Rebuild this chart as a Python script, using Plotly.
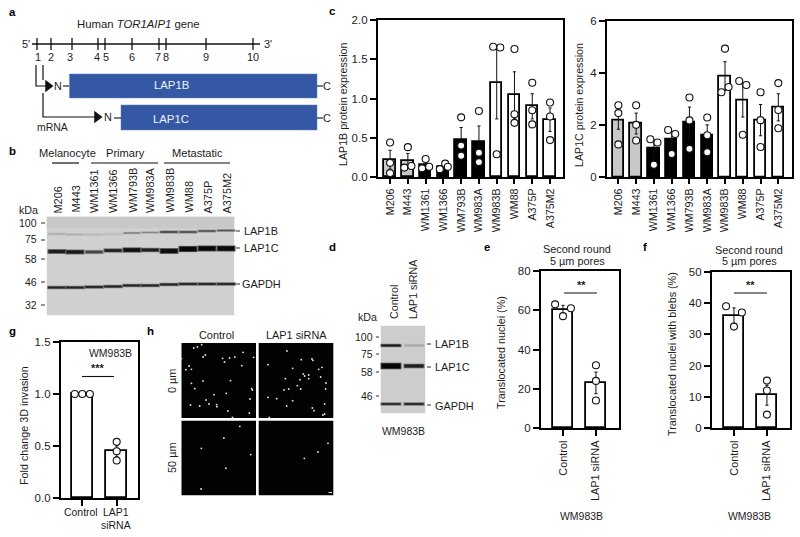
import plotly.graph_objects as go

W, H = 800, 537
FONT = "Liberation Sans"
INK = "#1c1c1c"
FS = 1.09

# ---- chart data ----
cell_lines = ["M206", "M443", "WM1361", "WM1366", "WM793B", "WM983A", "WM983B", "WM88", "A375P", "A375M2"]
bar_fill = ["#c8c8c8"] * 2 + ["#000000"] * 4 + ["#ffffff"] * 4

lap1b_mean = [0.22, 0.21, 0.15, 0.13, 0.47, 0.44, 1.20, 1.04, 0.90, 0.73]
lap1b_err = [0.12, 0.09, 0.04, 0.03, 0.16, 0.21, 0.46, 0.30, 0.16, 0.15]
lap1b_pts = [[0.44, 0.18, 0.05], [0.38, 0.12, 0.14], [0.23, 0.11, 0.13], [0.17, 0.10, 0.13], [0.76, 0.40, 0.27],
             [0.84, 0.31, 0.19], [0.29, 1.66, 1.65], [1.63, 0.80, 0.69], [1.20, 0.85, 0.67], [0.95, 0.77, 0.47]]
lap1b_off = [[0, 0, 0], [0, -0.2, 0.2], [0, -0.2, 0.2], [0.1, -0.2, 0.25], [0, 0, 0],
             [0, 0, 0], [0, -0.2, 0.2], [0, 0, 0], [0, 0, 0], [0, 0, 0]]

lap1c_mean = [2.15, 2.05, 1.08, 1.45, 2.10, 1.60, 3.87, 2.93, 2.18, 2.67]
lap1c_err = [0.32, 0.40, 0.33, 0.30, 0.58, 0.40, 0.55, 0.63, 0.60, 0.52]
lap1c_pts = [[2.75, 2.45, 1.25], [2.75, 2.00, 1.40], [0.47, 1.45, 1.32], [0.88, 1.80, 1.65], [3.05, 2.17, 1.08],
             [2.28, 1.60, 0.95], [4.92, 3.25, 3.45], [1.62, 3.68, 3.53], [3.25, 2.18, 1.15], [3.60, 2.57, 1.87]]
lap1c_off = [[0, 0, 0], [0, 0, 0], [0, -0.2, 0.2], [0, -0.2, 0.2], [0, 0, 0],
             [0, 0, 0], [0, -0.2, 0.2], [0, -0.2, 0.2], [0, 0, 0], [0, 0, 0]]

treat_e = ["Control", "LAP1 siRNA"]
nuclei_mean = [60, 23]
nuclei_err = [2.5, 5.5]
nuclei_pts = [[63, 61, 57], [32, 24, 14]]
blebs_mean = [36, 10.5]
blebs_err = [2.5, 3.2]
blebs_pts = [[39, 37, 32.5], [15.2, 12, 4.3]]
e_off = [[-0.24, 0.24, 0], [0, 0, 0]]

treat_g = ["", ""]
invasion_mean = [1.0, 0.45]
invasion_err = [0.0, 0.05]
invasion_pts = [[1.0, 1.0, 1.0], [0.54, 0.45, 0.36]]
g_off = [[-0.22, 0, 0.22], [0, 0, 0]]

exon_labels = ["1", "2", "3", "4", "5", "6", "7", "8", "9", "10"]
exon_pos = [37, 51, 72, 98, 105, 132, 159, 166, 206, 253]
exon_text = [38, 51, 70, 97, 106, 132, 158, 166, 206, 253]

# western blot b: lane centre, band height and darkness per protein
b_lanes = [57, 75, 94, 113, 132, 150, 169, 188, 207, 226]
b_lap1b_y = [234, 234.5, 234.5, 234, 233, 232.5, 232, 232, 231, 230.5]
b_lap1b_g = [170, 175, 185, 192, 120, 135, 60, 65, 75, 85]
b_lap1c_y = [251.5, 252, 252, 250.5, 250, 250, 251, 249, 248.5, 248.5]
b_lap1c_g = [30, 25, 70, 30, 15, 30, 15, 8, 8, 10]
b_lap1c_w = [3.2, 3.2, 2.6, 2.6, 3.6, 2.8, 4.2, 4.6, 4.4, 4.4]
b_gapdh_y = [287.5, 287.5, 287, 286.5, 285.5, 285.5, 284.5, 284, 284, 284]
b_gapdh_g = [35] * 10
# western blot d
d_lanes = [391, 414]
d_lap1b_g = [25, 165]
d_lap1c_g = [5, 30]
d_lap1c_w = [5, 3]
d_gapdh_g = [40, 35]

# h: bright nuclei
h_ctrl0_x = [47, 58, 71, 75, 82, 134, 140, 155, 171, 196, 228, 10, 33, 23, 40, 192, 75, 158, 40, 50, 222, 224, 145, 108, 84, 217, 37, 65, 93, 116, 117, 150, 215, 164]
h_ctrl0_y = [30, 27, 20, 57, 51, 61, 72, 60, 57, 43, 58, 62, 84, 95, 94, 83, 129, 128, 136, 152, 152, 156, 166, 170, 186, 183, 201, 204, 198, 200, 206, 219, 225, 238]
h_si0_x = [327, 370, 402, 405, 270, 344, 432, 422, 376, 380, 392, 392, 366, 322, 428, 358, 444, 332, 318, 368, 443, 270, 296, 344, 440, 326, 403, 408, 440, 435, 274]
h_si0_y = [39, 65, 63, 67, 80, 91, 88, 94, 108, 114, 111, 122, 125, 122, 117, 143, 135, 153, 156, 153, 153, 178, 182, 188, 198, 204, 210, 218, 228, 231, 238]
h_ctrl50_x = [186, 138, 70, 219, 144, 69]
h_ctrl50_y = [265, 300, 331, 350, 391, 453]
h_si50_x = [450, 420, 379]
h_si50_y = [316, 342, 361]

# ---- helpers ----
fig = go.Figure()
annos, shapes = [], []
axes = {}
n_ax = [1]


def dom(a, b, total):
    return [a / total, b / total]


def new_axes(x0, x1, y0, y1):
    k = n_ax[0]
    n_ax[0] += 1
    xa, ya = f"xaxis{k}", f"yaxis{k}"
    axes[xa] = dict(domain=dom(x0, x1, W), anchor=f"y{k}", automargin=False)
    axes[ya] = dict(domain=[1 - y1 / H, 1 - y0 / H], anchor=f"x{k}", automargin=False)
    return k, xa, ya


# page-wide axes in picture units for the schematic and the blots
P, pxa, pya = new_axes(0, W, 0, H)
axes[pxa].update(range=[0, W], visible=False, fixedrange=True)
axes[pya].update(range=[H, 0], visible=False, fixedrange=True)


def txt(x, y, s, size=10.3, xa="center", ya="middle", rot=0, color=INK, bold=False):
    annos.append(dict(xref="paper", yref="paper", x=x / W, y=1 - y / H, text=f"<b>{s}</b>" if bold else s,
                      showarrow=False, xanchor=xa, yanchor=ya, textangle=rot, borderpad=0,
                      font=dict(family=FONT, size=size * FS, color=color)))


def line(xs, ys, w=1.2, color="#111111"):
    fig.add_trace(go.Scatter(x=xs, y=ys, mode="lines", line=dict(color=color, width=w),
                             xaxis=f"x{P}", yaxis=f"y{P}", hoverinfo="skip", showlegend=False))


def rect(x0, y0, x1, y1, fill, lc=None):
    shapes.append(dict(type="rect", xref=f"x{P}", yref=f"y{P}", x0=x0, x1=x1, y0=y0, y1=y1,
                       fillcolor=fill, line=dict(color=lc or fill, width=0.5), layer="below"))


def grey(g):
    return f"rgb({g},{g},{g})"


def band(x, y, half, g, w):
    # soft halo then core so the band reads as a blurred blot band
    halo = min(g + 75, 195)
    line([x - half - 1, x + half + 1], [y, y], w + 1.6, grey(halo))
    line([x - half, x + half], [y, y], w, grey(g))


def bars(x0, x1, y0, y1, means, errs, pts, offs, labels, ymax, ticks, fills, xr, bw, angle=-90, fmt=None, tlen=5, tfs=9.8):
    k, xa, ya = new_axes(x0, x1, y0, y1)
    xs = list(range(len(means)))
    fig.add_trace(go.Bar(x=xs, y=means, width=bw, marker=dict(color=fills, line=dict(color="#000000", width=1.8)),
                         error_y=dict(type="data", array=errs, color="#111111", thickness=1, width=1.6),
                         xaxis=f"x{k}", yaxis=f"y{k}", showlegend=False, hoverinfo="skip"))
    px, py = [], []
    for i, (row, off) in enumerate(zip(pts, offs)):
        for v, o in zip(row, off):
            px.append(i + o)
            py.append(v)
    fig.add_trace(go.Scatter(x=px, y=py, mode="markers", cliponaxis=False,
                             marker=dict(size=7, color="#ffffff", line=dict(color="#111111", width=1.1)),
                             xaxis=f"x{k}", yaxis=f"y{k}", showlegend=False, hoverinfo="skip"))
    axes[xa].update(range=xr, tickmode="array", tickvals=xs, ticktext=labels, tickangle=angle, ticks="outside",
                    ticklen=tlen, tickwidth=1.6, tickcolor="#000000", showline=True, linewidth=2.4, linecolor="#000000",
                    mirror=True, showgrid=False, zeroline=False, fixedrange=True,
                    tickfont=dict(family=FONT, size=tfs * FS, color=INK))
    axes[ya].update(range=[0, ymax], tickmode="array", tickvals=ticks, ticktext=[fmt % t for t in ticks],
                    ticks="outside", ticklen=6, tickwidth=1.6, tickcolor="#000000", showline=True, linewidth=2.4,
                    linecolor="#000000", mirror=True, showgrid=False, zeroline=False, fixedrange=True,
                    tickfont=dict(family=FONT, size=10.5 * FS, color=INK))


def micrograph(x0, x1, y0, y1, dx, dy, rx, ry):
    k, xa, ya = new_axes(x0, x1, y0, y1)
    fig.add_trace(go.Scatter(x=dx, y=dy, mode="markers", marker=dict(size=1.9, color="#e0e0e0"),
                             xaxis=f"x{k}", yaxis=f"y{k}", showlegend=False, hoverinfo="skip"))
    axes[xa].update(range=rx, visible=False, fixedrange=True)
    axes[ya].update(range=ry, visible=False, fixedrange=True)
    shapes.append(dict(type="rect", xref="paper", yref="paper", x0=x0 / W, x1=x1 / W, y0=1 - y1 / H, y1=1 - y0 / H,
                       fillcolor="#020202", line=dict(width=0), layer="below"))


# ---- panel letters ----
for s, x, y in [("a", 12, 12), ("c", 332, 11), ("b", 12, 151), ("d", 332, 247), ("e", 487, 247), ("f", 645, 247),
                ("g", 12, 331), ("h", 150, 331)]:
    txt(x, y, s, size=10.5, bold=True, color="#000000")

# ---- panel a ----
txt(138, 24, "Human <i>TOR1AIP1</i> gene", size=10.4)
txt(26, 44, "5'", size=10)
txt(268, 44, "3'", size=10)
line([32, 260], [44, 44], 1.3)
for p, tx, lab in zip(exon_pos, exon_text, exon_labels):
    line([p, p], [38, 50], 1.3)
    txt(tx, 57, lab, size=10)
line([36, 36, 46], [65, 86, 86], 1.2)
line([43, 43], [65, 80], 1.2)
line([43, 43, 95], [93, 117, 117], 1.2)
fig.add_trace(go.Scatter(x=[48, 97], y=[86, 117], mode="markers", marker=dict(symbol="triangle-right", size=11, color="#111111"),
                         xaxis=f"x{P}", yaxis=f"y{P}", showlegend=False, hoverinfo="skip"))
rect(69.5, 74, 317, 98, "#3558a5", "#5f7dbd")
rect(121, 105, 317, 130, "#3558a5", "#5f7dbd")
txt(171, 85, "LAP1B", size=10.4, color="#eef1f8")
txt(171, 119, "LAP1C", size=10.4, color="#eef1f8")
txt(58, 86, "N", size=10)
txt(107.5, 117, "N", size=10)
line([63, 69], [86, 86], 1.1)
line([114, 121], [118, 118], 1.1)
line([317, 323], [86, 86], 1.1)
line([317, 323], [118, 118], 1.1)
txt(327, 86, "C", size=10)
txt(327, 118, "C", size=10)
txt(52, 127, "mRNA", size=9.6)

# ---- panel b ----
for s, x in [("Melanocyte", 67), ("Primary", 125), ("Metastatic", 197)]:
    txt(x, 153, s, size=10.2)
for a, b in [(52, 79), (91, 158), (164, 230)]:
    line([a, b], [163, 163], 1.2)
for x, lab in zip(b_lanes, cell_lines):
    txt(x, 214, lab, size=10, rot=-90, ya="bottom")
txt(29, 210, "kDa", size=9.8)
for s, y in [("100", 223), ("75", 240), ("58", 259), ("46", 282), ("32", 305)]:
    txt(38, y, s, size=9.6, xa="right")
    line([41, 45], [y, y], 0.9)
rect(47, 217, 234, 315, "#d0d0d0")
rect(47, 217, 234, 228, "#c8c8c8")
for x, yb, gb, yc, gc, wc, yg, gg in zip(b_lanes, b_lap1b_y, b_lap1b_g, b_lap1c_y, b_lap1c_g, b_lap1c_w, b_gapdh_y, b_gapdh_g):
    band(x, yb, 8.5, gb, 1.4)
    band(x, yc, 8.5, gc, wc)
    band(x, yg, 8.8, gg, 1.8)
for s, y, tx0 in [("LAP1B", 231, 243), ("LAP1C", 248, 243)]:
    line([236, 240], [y, y], 0.9)
    txt(tx0, y, s, size=10, xa="left")
line([236, 240], [284, 284], 0.9)
txt(241, 284, "GAPDH", size=10, xa="left")

# ---- panels c ----
c_ticks = [0.0, 0.5, 1.0, 1.5, 2.0]
bars(378, 563, 20, 177, lap1b_mean, lap1b_err, lap1b_pts, lap1b_off, cell_lines, 2.0, c_ticks, bar_fill,
     [-0.68, 9.73], 0.64, fmt="%.1f")
txt(343, 105, "LAP1B protein expression", rot=-90, size=9.8)
bars(607, 792, 20.5, 177, lap1c_mean, lap1c_err, lap1c_pts, lap1c_off, cell_lines, 6, [0, 2, 4, 6], bar_fill,
     [-0.64, 9.77], 0.64, fmt="%d")
txt(579, 105, "LAP1C protein expression", rot=-90, size=9.8)

# ---- panel d ----
txt(394, 320, "Control", rot=-90, ya="bottom", size=9.8)
txt(413, 320, "LAP1 siRNA", rot=-90, ya="bottom", size=9.8)
txt(367, 317, "kDa", size=9.8)
for s, y in [("100", 337), ("75", 354), ("58", 372), ("46", 396)]:
    txt(374, y, s, size=9.6, xa="right")
    line([376, 379], [y, y], 0.9)
rect(381, 326, 425, 413, "#cdcdcd")
for x, gb, gc, wc, gg in zip(d_lanes, d_lap1b_g, d_lap1c_g, d_lap1c_w, d_gapdh_g):
    band(x, 345.5, 9.5, gb, 1.8)
    band(x, 366, 9.5, gc, wc)
    band(x, 404, 9.5, gg, 1.7)
for s, y, ty in [("LAP1B", 344, 344), ("LAP1C", 367, 367), ("GAPDH", 405, 406)]:
    line([427, 431], [y, y], 0.9)
    txt(433.5, ty, s, size=10, xa="left")
txt(403, 431, "WM983B", size=9.6)

# ---- panels e, f ----
wh = ["#ffffff", "#ffffff"]
bars(541, 619, 271, 428, nuclei_mean, nuclei_err, nuclei_pts, e_off, treat_e, 80, [0, 20, 40, 60, 80], wh,
     [-0.667, 1.7], 0.63, fmt="%d", tlen=6, tfs=10)
txt(501, 353, "Translocated nuclei (%)", rot=-90, size=9.9)
txt(577, 249, "Second round", size=10)
txt(577, 261, "5 µm pores", size=10)
line([564, 597], [293, 293], 1.1)
txt(581, 285, "**", size=10, bold=True)
txt(581, 516, "WM983B", size=9.6)

bars(712, 790, 272, 428, blebs_mean, blebs_err, blebs_pts, e_off, treat_e, 50, [0, 10, 20, 30, 40, 50], wh,
     [-0.667, 1.7], 0.63, fmt="%d", tlen=6, tfs=10)
txt(672, 354, "Translocated nuclei with blebs (%)", rot=-90, size=9.9)
txt(749, 250, "Second round", size=10)
txt(749, 261, "5 µm pores", size=10)
line([734, 767], [293, 293], 1.1)
txt(750, 285, "**", size=10, bold=True)
txt(749, 516, "WM983B", size=9.6)

# ---- panel g ----
bars(61, 138, 342, 498, invasion_mean, invasion_err, invasion_pts, g_off, treat_g, 1.5, [0.0, 0.5, 1.0, 1.5], wh,
     [-0.62, 1.62], 0.6, angle=0, fmt="%.1f", tlen=6, tfs=10)
txt(81, 512, "Control", size=9.6)
txt(116, 512, "LAP1", size=9.6)
txt(116, 525, "siRNA", size=9.6)
txt(24, 426, "Fold change 3D invasion", rot=-90, size=9.9)
txt(133, 353, "WM983B", size=9.6, xa="right")
line([82, 114], [376.5, 376.5], 1.1)
txt(97, 368, "***", size=10, bold=True)

# ---- panel h ----
txt(216, 335, "Control", size=10)
txt(296, 335, "LAP1 siRNA", size=10)
txt(172, 381, "0 µm", rot=-90, size=10)
txt(172, 458, "50 µm", rot=-90, size=10)
micrograph(181.5, 256, 343, 418, h_ctrl0_x, h_ctrl0_y, [10, 235], [240, 15])
micrograph(258.7, 333.3, 343, 418, h_si0_x, h_si0_y, [242, 466], [240, 15])
micrograph(181.5, 256, 420.7, 495.3, h_ctrl50_x, h_ctrl50_y, [10, 235], [472, 248])
micrograph(258.7, 333.3, 420.7, 495.3, h_si50_x, h_si50_y, [242, 466], [472, 248])
line([328.5, 332], [492.5, 492.5], 1.1, "#e8e8e8")

fig.update_layout(template="none", width=W, height=H, autosize=False, margin=dict(l=0, r=0, t=0, b=0, pad=0),
                  paper_bgcolor="#ffffff", plot_bgcolor="rgba(0,0,0,0)", showlegend=False, annotations=annos,
                  shapes=shapes, bargap=0, font=dict(family=FONT, color=INK), **axes)
fig.write_html("out.html", config={"displayModeBar": False},
               post_script="document.body.style.margin='0';")
